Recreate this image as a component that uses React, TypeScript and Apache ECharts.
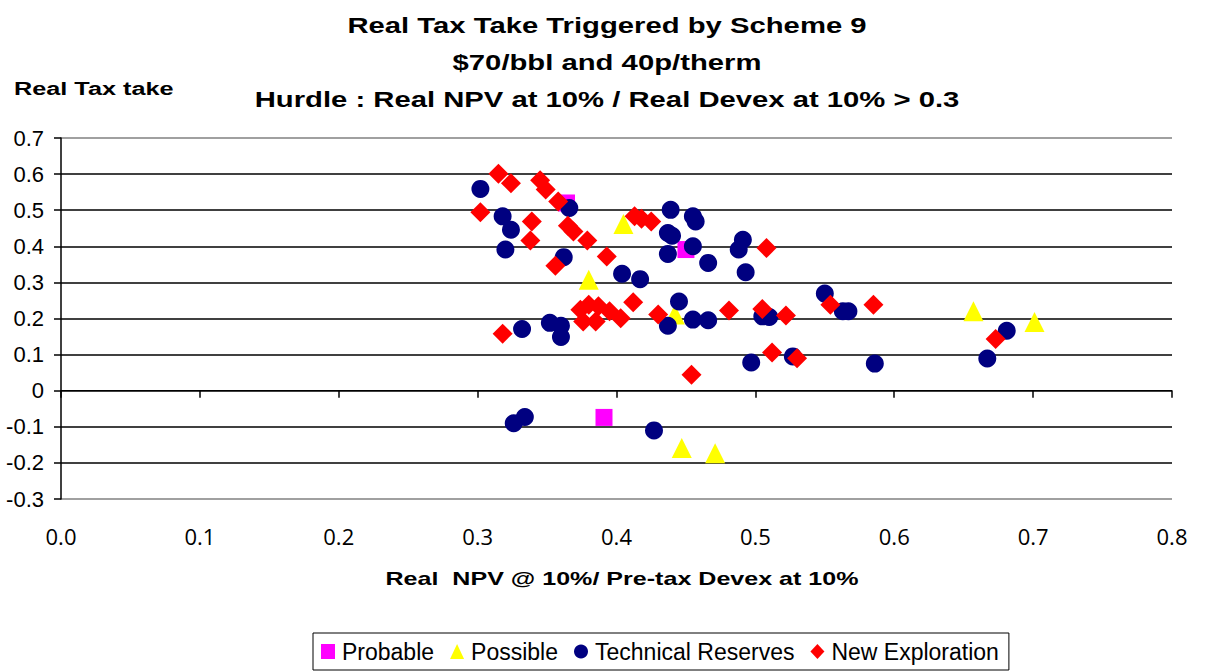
import React, { useEffect, useRef } from "react";
import * as echarts from "echarts";

const probable: number[][] = [[0.364, 0.52], [0.45, 0.391], [0.391, -0.074]];
const possible: number[][] = [
  [0.405, 0.462], [0.38, 0.307], [0.442, 0.211], [0.657, 0.22], [0.701, 0.19], [0.447, -0.159], [0.471, -0.173],
];
const technical: number[][] = [
  [0.302, 0.559], [0.318, 0.483], [0.324, 0.446], [0.32, 0.391], [0.366, 0.506], [0.362, 0.37], [0.404, 0.324],
  [0.417, 0.309], [0.439, 0.501], [0.455, 0.483], [0.457, 0.469], [0.437, 0.437], [0.44, 0.429], [0.437, 0.379],
  [0.455, 0.4], [0.445, 0.247], [0.437, 0.18], [0.455, 0.197], [0.466, 0.195], [0.332, 0.171], [0.352, 0.188],
  [0.36, 0.18], [0.36, 0.149], [0.466, 0.354], [0.491, 0.418], [0.488, 0.391], [0.493, 0.328], [0.55, 0.269],
  [0.563, 0.22], [0.567, 0.22], [0.505, 0.206], [0.51, 0.204], [0.497, 0.078], [0.527, 0.095], [0.586, 0.075],
  [0.681, 0.166], [0.667, 0.089], [0.326, -0.09], [0.334, -0.073], [0.427, -0.11],
];
const newExploration: number[][] = [
  [0.315, 0.601], [0.324, 0.575], [0.302, 0.494], [0.345, 0.583], [0.349, 0.557], [0.358, 0.524], [0.339, 0.469],
  [0.338, 0.416], [0.365, 0.457], [0.369, 0.441], [0.379, 0.416], [0.393, 0.372], [0.356, 0.346], [0.413, 0.483],
  [0.418, 0.476], [0.425, 0.469], [0.374, 0.224], [0.38, 0.238], [0.387, 0.234], [0.395, 0.22], [0.403, 0.201],
  [0.376, 0.192], [0.385, 0.192], [0.412, 0.245], [0.43, 0.211], [0.318, 0.158], [0.508, 0.395], [0.481, 0.222],
  [0.505, 0.226], [0.522, 0.208], [0.554, 0.238], [0.585, 0.238], [0.512, 0.106], [0.53, 0.09], [0.454, 0.044],
  [0.673, 0.143],
];

const titleLines = [
  "Real Tax Take Triggered by Scheme 9",
  "$70/bbl and 40p/therm",
  "Hurdle : Real NPV at 10% / Real Devex at 10% > 0.3",
];
const yAxisTitle = "Real Tax take";
const xAxisTitle = "Real  NPV @ 10%/ Pre-tax Devex at 10%";

const FONT = "'Liberation Sans', Arial, sans-serif";

export default function App() {
  const ref = useRef<HTMLDivElement>(null);
  useEffect(() => {
    if (!ref.current) return;
    const chart = echarts.init(ref.current, null, { renderer: "svg" });
    const gridColors = ["#808080", "#000", "#000", "#000", "#000", "#000", "#000", "#000", "#000", "#000", "#808080"];
    chart.setOption({
      animation: false,
      backgroundColor: "#fff",
      textStyle: { fontFamily: FONT },
      grid: { left: 61, right: 34, top: 138, bottom: 172, containLabel: false },
      graphic: [
        ...titleLines.map((t, i) => ({
          type: "text",
          x: 607,
          y: 25 + i * 37,
          scaleX: 1.33,
          style: {
            text: t,
            font: `bold 22px ${FONT}`,
            fill: "#000",
            textAlign: "center",
            textVerticalAlign: "middle",
          },
        })),
        {
          type: "text",
          x: 14,
          y: 89,
          scaleX: 1.33,
          style: { text: yAxisTitle, font: `bold 19px ${FONT}`, fill: "#000", textVerticalAlign: "middle" },
        },
        {
          type: "text",
          x: 622,
          y: 579,
          scaleX: 1.32,
          style: {
            text: xAxisTitle,
            font: `bold 19px ${FONT}`,
            fill: "#000",
            textAlign: "center",
            textVerticalAlign: "middle",
          },
        },
      ],
      legend: {
        left: 313,
        top: 633,
        orient: "horizontal",
        borderColor: "#000",
        borderWidth: 1,
        borderRadius: 0,
        padding: [7, 10, 7, 8],
        itemGap: 16,
        itemWidth: 14,
        itemHeight: 15,
        textStyle: { fontFamily: FONT, fontSize: 23, color: "#000", padding: [0, 0, 0, 2] },
        data: ["Probable", "Possible", "Technical Reserves", "New Exploration"],
      },
      xAxis: [
        {
          type: "value",
          min: 0,
          max: 0.8,
          interval: 0.1,
          axisLine: { show: false },
          axisTick: { show: false },
          splitLine: { show: false },
          axisLabel: {
            formatter: (v: number) => v.toFixed(1),
            fontSize: 22,
            color: "#000",
            fontFamily: "'Open Sans', sans-serif",
            margin: 26,
          },
        },
        {
          type: "value",
          min: 0,
          max: 0.8,
          interval: 0.1,
          position: "bottom",
          axisLine: { show: true, onZero: true, onZeroAxisIndex: 0, lineStyle: { color: "#000", width: 1 } },
          axisTick: { show: true, inside: false, length: 7, lineStyle: { color: "#000", width: 1.5 } },
          splitLine: { show: false },
          axisLabel: { show: false },
        },
      ],
      yAxis: {
        type: "value",
        min: -0.3,
        max: 0.7,
        interval: 0.1,
        axisLine: { show: true, onZero: false, lineStyle: { color: "#000", width: 1.5 } },
        axisTick: { show: true, length: 7, lineStyle: { color: "#000", width: 1.5 } },
        splitLine: { show: true, lineStyle: { color: gridColors, width: 1.5 } },
        axisLabel: {
          fontSize: 22,
          color: "#000",
          fontFamily: FONT,
          margin: 17,
          formatter: (v: number) => {
            const r = Math.round(v * 10) / 10;
            return r === 0 ? "0" : String(r);
          },
        },
      },
      series: [
        {
          name: "Probable",
          type: "scatter",
          data: probable,
          symbol: "rect",
          symbolSize: 17,
          itemStyle: { color: "#FF00FF", opacity: 1 },
        },
        {
          name: "Possible",
          type: "scatter",
          data: possible,
          symbol: "triangle",
          symbolSize: 20,
          itemStyle: { color: "#FFFF00", opacity: 1 },
        },
        {
          name: "Technical Reserves",
          type: "scatter",
          data: technical,
          symbol: "circle",
          symbolSize: 18,
          itemStyle: { color: "#000080", opacity: 1 },
        },
        {
          name: "New Exploration",
          type: "scatter",
          data: newExploration,
          symbol: "diamond",
          symbolSize: 20,
          itemStyle: { color: "#FF0000", opacity: 1 },
        },
      ],
    });
    return () => chart.dispose();
  }, []);
  return (
    <div
      ref={ref}
      style={{ position: "absolute", left: 0, top: 0, width: 1206, height: 671 }}
    />
  );
}
